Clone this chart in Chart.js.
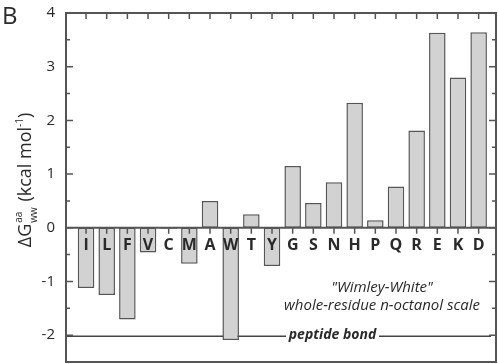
<!DOCTYPE html>
<html>
<head>
<meta charset="utf-8">
<script src="https://cdn.jsdelivr.net/npm/chart.js@4/dist/chart.umd.min.js"></script>
<style>
  html, body { margin: 0; padding: 0; background: #fff; }
  #wrap { width: 498px; height: 364px; position: relative; }
</style>
</head>
<body>
<div id="wrap"><canvas id="c" width="498" height="364"></canvas></div>
<script>
// Wimley-White whole-residue octanol scale (kcal/mol)
const residues = ['I','L','F','V','C','M','A','W','T','Y','G','S','N','H','P','Q','R','E','K','D'];
const dGww = [-1.12, -1.25, -1.71, -0.46, -0.02, -0.67, 0.50, -2.09, 0.25, -0.71,
              1.15, 0.46, 0.85, 2.33, 0.14, 0.77, 1.81, 3.63, 2.80, 3.64];
const peptideBond = -2.02;
const yTicks = [-2, -1, 0, 1, 2, 3, 4];
const yMinorTicks = [-2.5, -1.5, -0.5, 0.5, 1.5, 2.5, 3.5];

const INK = '#2a2a2a';
const FRAME = '#555';
const FONT = '"Open Sans", "DejaVu Sans", sans-serif';

const decor = {
  id: 'decor',
  beforeDatasetsDraw(chart) {
    const { ctx, chartArea: a, scales: { y } } = chart;
    // peptide bond reference line with its label
    const py = y.getPixelForValue(peptideBond);
    ctx.save();
    ctx.strokeStyle = '#444';
    ctx.lineWidth = 1.5;
    ctx.beginPath();
    ctx.moveTo(a.left, py); ctx.lineTo(286, py);
    ctx.moveTo(379, py); ctx.lineTo(491, py);
    ctx.stroke();
    ctx.fillStyle = INK;
    ctx.font = 'italic bold 14px ' + FONT;
    ctx.textAlign = 'center';
    ctx.textBaseline = 'middle';
    ctx.fillText('peptide bond', 332.5, py - 1);
    ctx.restore();
  },
  afterDatasetsDraw(chart) {
    const { ctx, chartArea: a, scales: { x, y } } = chart;
    ctx.save();
    // frame
    ctx.strokeStyle = FRAME;
    ctx.lineWidth = 2;
    ctx.strokeRect(a.left, a.top, a.right - a.left, a.bottom - a.top);
    // zero line
    const y0 = y.getPixelForValue(0);
    ctx.lineWidth = 1.8;
    ctx.beginPath();
    ctx.moveTo(a.left, y0); ctx.lineTo(a.right, y0);
    ctx.stroke();
    // category ticks on the top edge and below the zero line
    ctx.lineWidth = 1.5;
    ctx.beginPath();
    residues.forEach((r, i) => {
      const px = x.getPixelForValue(i);
      ctx.moveTo(px, a.top); ctx.lineTo(px, a.top + 6);
      ctx.moveTo(px, y0); ctx.lineTo(px, y0 + 6);
    });
    // y ticks pointing inward on both sides
    yTicks.forEach(v => {
      const py = y.getPixelForValue(v);
      ctx.moveTo(a.left, py); ctx.lineTo(a.left + 7, py);
      ctx.moveTo(a.right, py); ctx.lineTo(a.right - 7, py);
    });
    yMinorTicks.forEach(v => {
      const py = y.getPixelForValue(v);
      ctx.moveTo(a.left, py); ctx.lineTo(a.left + 4, py);
      ctx.moveTo(a.right, py); ctx.lineTo(a.right - 4, py);
    });
    ctx.stroke();
    // residue letters under the zero line
    ctx.fillStyle = INK;
    ctx.font = 'bold 16px ' + FONT;
    ctx.textAlign = 'center';
    ctx.textBaseline = 'middle';
    residues.forEach((r, i) => {
      ctx.fillText(r, x.getPixelForValue(i), y0 + 18);
    });
    // scale caption
    ctx.font = 'italic 15px ' + FONT;
    ctx.fillText('"Wimley-White"', 382, 288);
    ctx.fillText('whole-residue n-octanol scale', 382, 306);
    // panel letter
    ctx.font = '24px ' + FONT;
    ctx.textAlign = 'left';
    ctx.textBaseline = 'alphabetic';
    ctx.fillText('B', 2, 24);
    // rotated y-axis title: ΔG^aa_ww (kcal mol^-1)
    ctx.translate(31, 180);
    ctx.rotate(-Math.PI / 2);
    const big = '18px ' + FONT, small = '10px ' + FONT;
    const w = (f, t) => { ctx.font = f; return ctx.measureText(t).width; };
    const wDG = w(big, 'ΔG'), wSS = Math.max(w(small, 'aa'), w(small, 'ww')) + 2;
    const wMid = w(big, ' (kcal mol'), wExp = w(small, '-1'), wEnd = w(big, ')');
    let cx = -(wDG + wSS + wMid + wExp + wEnd) / 2;
    ctx.font = big; ctx.fillText('ΔG', cx, 0); cx += wDG + 1;
    ctx.font = small; ctx.fillText('aa', cx, -9); ctx.fillText('ww', cx, 6); cx += wSS - 1;
    ctx.font = big; ctx.fillText(' (kcal mol', cx, 0); cx += wMid;
    ctx.font = small; ctx.fillText('-1', cx, -8); cx += wExp;
    ctx.font = big; ctx.fillText(')', cx, 0);
    ctx.restore();
  }
};

new Chart(document.getElementById('c'), {
  type: 'bar',
  data: {
    datasets: [{
      data: dGww.map((v, i) => ({ x: i, y: v })),
      backgroundColor: '#d2d2d2',
      borderColor: '#555',
      borderWidth: 1.5,
      borderSkipped: false,
      barPercentage: 1,
      categoryPercentage: 0.8
    }]
  },
  options: {
    responsive: false,
    animation: false,
    events: [],
    layout: { padding: { left: 0, right: 2, top: 13, bottom: 2 } },
    plugins: { legend: { display: false }, tooltip: { enabled: false } },
    scales: {
      x: {
        type: 'linear',
        min: -0.97,
        max: 19.84,
        offset: false,
        display: false
      },
      y: {
        min: -2.5,
        max: 4,
        afterBuildTicks: s => { s.ticks = yTicks.map(v => ({ value: v })); },
        afterFit: s => { s.width = 66; s.paddingTop = 0; s.paddingBottom = 0; },
        grid: { display: false, drawTicks: false },
        border: { display: false },
        ticks: {
          padding: 11,
          color: INK,
          font: { family: FONT, size: 15 },
          callback: v => String(v)
        }
      }
    }
  },
  plugins: [decor]
});
</script>
</body>
</html>
